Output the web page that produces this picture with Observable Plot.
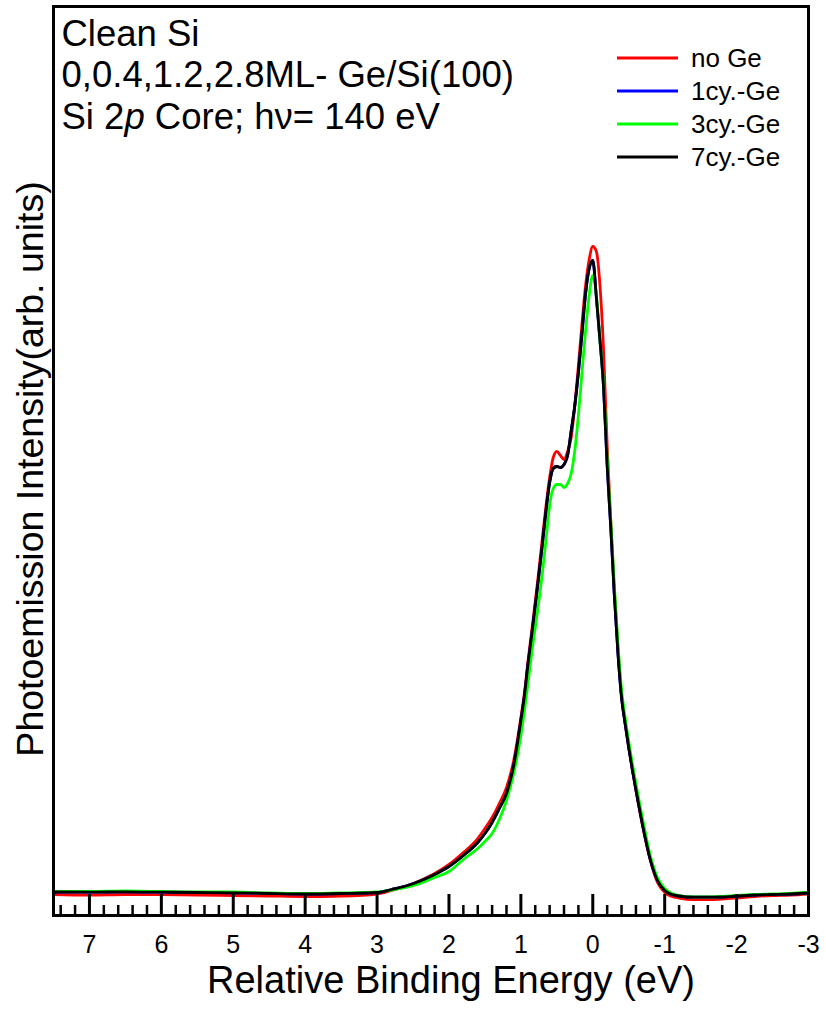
<!DOCTYPE html>
<html>
<head>
<meta charset="utf-8">
<script src="https://cdn.jsdelivr.net/npm/d3@7"></script>
<script src="https://cdn.jsdelivr.net/npm/@observablehq/plot@0.6"></script>
<style>
  body { margin: 0; background: #fff; }
  #chart svg { display: block; }
</style>
</head>
<body>
<div id="chart"></div>
<script>
// Si 2p core-level photoemission spectra, relative binding energy (eV)
const energy = [7.5, 7.0, 6.5, 6.0, 5.5, 5.0, 4.5, 4.0, 3.5, 3.0,
  2.8, 2.6, 2.4, 2.2, 2.0, 1.8, 1.6,
  1.5, 1.4, 1.3, 1.2, 1.1, 1.0,
  0.95, 0.9, 0.85, 0.8, 0.75, 0.7, 0.65, 0.6, 0.55, 0.5, 0.45, 0.4, 0.35, 0.3, 0.25, 0.2, 0.15, 0.1, 0.05, 0.0,
  -0.05, -0.1, -0.15, -0.2, -0.25, -0.3, -0.35, -0.4, -0.45, -0.5, -0.55, -0.6,
  -0.7, -0.8, -0.9, -1.0, -1.1, -1.2,
  -1.4, -1.6, -1.8, -2.0,
  -2.25, -2.5, -2.75, -3.0];

// Intensities (arb. units) for each deposition
const noGe = [21, 20.5, 21, 20.8, 20.5, 20, 19.5, 19, 19.5, 21.5,
  25, 29, 35, 42, 51, 63, 77,
  87, 98, 112, 128, 155, 198,
  223, 255, 284, 314, 345, 378, 410, 438, 458, 464, 460, 456, 464, 478, 510, 550, 592, 630, 656, 669,
  664, 630, 565, 470, 395, 325, 268, 220, 192, 168, 146, 125,
  87, 55, 33, 23, 19, 17.5,
  16, 16, 16.5, 17.5,
  19, 20, 20.5, 21.5];

const cy1 = [23.5, 23.3, 23.7, 23.3, 23, 22.7, 22, 21.5, 22, 23,
  26, 29.5, 34.5, 41, 49, 60, 73,
  82, 93, 107, 122, 150, 195,
  220, 252, 280, 310, 340, 372, 405, 433, 447, 449, 448, 451, 460, 485, 510, 543, 582, 622, 647, 655,
  618, 575, 528, 450, 388, 320, 262, 218, 192, 168, 146, 126,
  88, 56, 35, 25, 21, 19.5,
  18.3, 18.3, 18.5, 19.5,
  20.5, 21, 21.5, 22.5];

const cy3 = [24, 24, 24.5, 24, 23.5, 23.5, 22.5, 22, 22.5, 23.5,
  25.5, 28, 32, 38, 44, 56, 67,
  74, 82, 96, 115, 142, 180,
  205, 233, 262, 288, 314, 343, 376, 410, 427, 431, 431, 428, 432, 442, 465, 500, 543, 585, 620, 640,
  620, 575, 532, 458, 395, 330, 272, 226, 198, 174, 152, 132,
  94, 60, 38, 27, 22, 20,
  18.5, 18.5, 19, 20,
  21, 21.5, 22, 23];

const cy7 = [23.5, 23.3, 23.7, 23.3, 23, 22.7, 22, 21.5, 22, 23,
  26, 29.5, 34.5, 41, 49, 60, 73,
  82, 93, 107, 122, 150, 195,
  220, 252, 280, 310, 340, 372, 405, 433, 447, 449, 448, 451, 460, 485, 510, 543, 582, 622, 647, 655,
  618, 575, 528, 450, 388, 320, 262, 218, 192, 168, 146, 126,
  88, 56, 35, 25, 21, 19.5,
  18.3, 18.3, 18.5, 19.5,
  20.5, 21, 21.5, 22.5];

const seriesNames = ["no Ge", "1cy.-Ge", "3cy.-Ge", "7cy.-Ge"];
const seriesColors = ["#ff0000", "#0000ff", "#00ff00", "#000000"];
const seriesValues = [noGe, cy1, cy3, cy7];

const majorTicks = [7, 6, 5, 4, 3, 2, 1, 0, -1, -2, -3];
const minorTicks = [7.4, 7.2, 6.8, 6.6, 6.4, 6.2, 5.8, 5.6, 5.4, 5.2, 4.8, 4.6, 4.4, 4.2,
  3.8, 3.6, 3.4, 3.2, 2.8, 2.6, 2.4, 2.2, 1.8, 1.6, 1.4, 1.2, 0.8, 0.6, 0.4, 0.2,
  -0.2, -0.4, -0.6, -0.8, -1.2, -1.4, -1.6, -1.8, -2.2, -2.4, -2.6, -2.8];

const titleLines = ["Clean Si", "0,0.4,1.2,2.8ML- Ge/Si(100)", "Si 2p Core; h\u03bd= 140 eV"];
const xLabel = "Relative Binding Energy (eV)";
const yLabel = "Photoemission Intensity(arb. units)";

// tidy rows for the line mark
const rows = seriesNames.flatMap((name, i) =>
  energy.map((e, j) => ({series: name, energy: e, intensity: seriesValues[i][j]})));

const fontFamily = '"Liberation Sans", Arial, Helvetica, sans-serif';

const chart = Plot.plot({
  width: 826,
  height: 1009,
  marginLeft: 53,
  marginRight: 18,
  marginTop: 6,
  marginBottom: 94,
  style: {fontFamily, background: "#fff", color: "#000", overflow: "visible"},
  x: {domain: [7.5, -3]},
  y: {domain: [0, 909], axis: null},
  color: {domain: seriesNames, range: seriesColors},
  marks: [
    Plot.line(rows, {x: "energy", y: "intensity", z: "series", stroke: "series",
      strokeWidth: 2.8, curve: "monotone-x"}),
    Plot.axisX(minorTicks, {tickSize: -10, strokeWidth: 2.5, stroke: "#000", tickFormat: () => "", label: null}),
    Plot.axisX(majorTicks, {tickSize: -21, strokeWidth: 3, stroke: "#000", tickFormat: () => "", label: null}),
    Plot.text(majorTicks, {x: d => d, text: d => String(d), frameAnchor: "bottom", dy: 29,
      lineAnchor: "middle", fontSize: 25, fill: "#000"}),
    Plot.frame({stroke: "#000", strokeWidth: 3}),
    Plot.text([xLabel], {frameAnchor: "bottom", dx: 20, dy: 65, lineAnchor: "middle", fontSize: 38, fill: "#000"}),
    Plot.text([yLabel], {frameAnchor: "left", textAnchor: "middle", dx: -23, dy: 8, rotate: -90,
      lineAnchor: "middle", fontSize: 37.5, fill: "#000"}),
    ...titleLines.map((t, i) => Plot.text([t], {frameAnchor: "top-left", textAnchor: "start",
      lineAnchor: "bottom", dx: 8, dy: 39 + 41.5 * i, fontSize: 36.5, fill: "#000"}))
  ]
});

// italic "p" in the core-level designation
const coreText = Array.from(chart.querySelectorAll("text")).find(n => n.textContent === titleLines[2]);
if (coreText) {
  const [before, after] = titleLines[2].split("2p");
  coreText.textContent = "";
  const sel = d3.select(coreText);
  sel.append("tspan").text(before + "2");
  sel.append("tspan").attr("font-style", "italic").text("p");
  sel.append("tspan").text(after);
}

// in-frame legend, top right
const legend = d3.select(chart).append("g")
  .attr("font-family", fontFamily)
  .attr("font-size", 26)
  .attr("text-anchor", "start")
  .attr("fill", "#000");
seriesNames.forEach((name, i) => {
  const y = 58 + 33 * i;
  legend.append("line")
    .attr("x1", 617).attr("x2", 678).attr("y1", y).attr("y2", y)
    .attr("stroke", seriesColors[i]).attr("stroke-width", 3);
  legend.append("text").attr("x", 691).attr("y", y + 9).text(name);
});

document.getElementById("chart").append(chart);
</script>
</body>
</html>
